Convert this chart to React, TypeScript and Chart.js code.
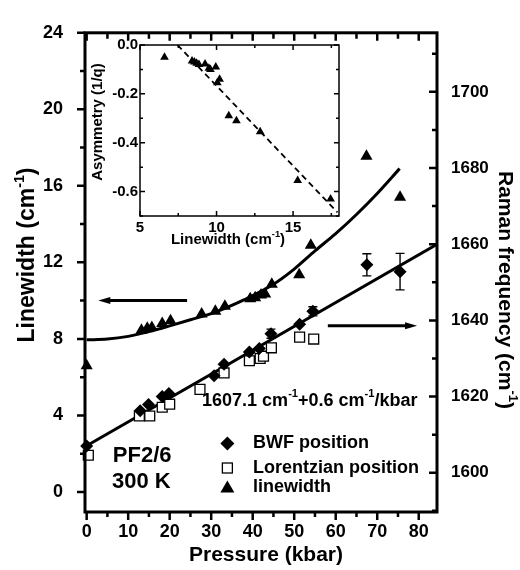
import React, { useEffect, useRef } from "react";
import { Chart, registerables } from "chart.js";
Chart.register(...registerables);

const FONT = '"Liberation Sans", Arial, Helvetica, sans-serif';

// ---- main plot data ----
const lwPressure = [0, 13.2, 14.6, 15.7, 18.2, 20.2, 27.7, 31.0, 33.3, 39.4, 40.6, 42.0, 43.0, 44.6, 51.2, 54.0, 67.4, 75.5];
const lwValue = [6.6, 8.45, 8.55, 8.6, 8.8, 8.95, 9.3, 9.45, 9.7, 10.1, 10.15, 10.3, 10.35, 10.85, 11.35, 12.9, 17.55, 15.4];

const lwCurvePressure = [0, 5, 10, 15, 20, 25, 31, 38, 44.6, 50, 55, 60, 65, 70, 75.4];
const lwCurveValue = [7.95, 7.99, 8.13, 8.38, 8.68, 9.0, 9.4, 10.05, 10.8, 11.65, 12.6, 13.5, 14.5, 15.6, 16.9];

const bwfPressure = [0, 12.9, 14.9, 18.2, 19.8, 30.7, 33.1, 39.2, 41.6, 44.4, 51.3, 54.5, 67.5, 75.5];
const bwfFreq = [1607, 1616.3, 1617.9, 1620.0, 1620.8, 1625.5, 1628.5, 1631.7, 1632.6, 1636.5, 1639.0, 1642.4, 1654.6, 1652.8];
const bwfErr = [0, 0, 0, 0, 0, 0, 0, 0, 0, 1.2, 0, 1.2, 2.9, 4.8];

const lorPressure = [0.4, 12.7, 15.2, 18.2, 20.0, 27.3, 33.1, 39.2, 41.8, 42.6, 44.5, 51.3, 54.7];
const lorFreq = [1604.6, 1614.9, 1614.9, 1617.2, 1618.0, 1621.9, 1626.2, 1629.4, 1630.0, 1630.6, 1632.8, 1635.6, 1635.1];

const fitPressure = [0, 84.4];
const fitFreq = [1607.1, 1660.0];

const pressureTicks = [0, 10, 20, 30, 40, 50, 60, 70, 80];
const pressureMinor = [5, 15, 25, 35, 45, 55, 65, 75];
const lwTicks = [0, 4, 8, 12, 16, 20, 24];
const lwMinor = [2, 6, 10, 14, 18, 22];
const freqTicks = [1600, 1620, 1640, 1660, 1680, 1700];
const freqMinor = [1590, 1610, 1630, 1650, 1670, 1690, 1710];

// ---- inset data ----
const insetLW = [6.6, 8.4, 8.55, 8.7, 8.85, 9.25, 9.5, 9.6, 9.95, 10.05, 10.2, 10.8, 11.3, 12.85, 15.3, 17.45];
const insetAsym = [-0.05, -0.065, -0.07, -0.075, -0.08, -0.078, -0.095, -0.1, -0.09, -0.155, -0.14, -0.29, -0.31, -0.355, -0.555, -0.63];
const insetFitLW = [7.45, 17.9];
const insetFitAsym = [0, -0.685];
const insetLWTicks = [5, 10, 15];
const insetLWMinor = [7.5, 12.5, 17.5];
const insetAsymTicks = [0, -0.2, -0.4, -0.6];
const insetAsymMinor = [-0.1, -0.3, -0.5, -0.7];

type Part = { t: string; sup?: boolean };

function fontStr(size: number) {
  return `bold ${size}px ${FONT}`;
}

function drawRich(ctx: CanvasRenderingContext2D, parts: Part[], x: number, y: number, size: number, align: "left" | "center") {
  let w = 0;
  for (const p of parts) {
    ctx.font = fontStr(p.sup ? size * 0.62 : size);
    w += ctx.measureText(p.t).width;
  }
  let cx = align === "center" ? x - w / 2 : x;
  ctx.textAlign = "left";
  ctx.textBaseline = "middle";
  ctx.fillStyle = "#000";
  for (const p of parts) {
    const s = p.sup ? size * 0.62 : size;
    ctx.font = fontStr(s);
    ctx.fillText(p.t, cx, p.sup ? y - size * 0.35 : y);
    cx += ctx.measureText(p.t).width;
  }
}

function drawRotated(ctx: CanvasRenderingContext2D, parts: Part[], x: number, y: number, size: number, angle: number) {
  ctx.save();
  ctx.translate(x, y);
  ctx.rotate(angle);
  drawRich(ctx, parts, 0, 0, size, "center");
  ctx.restore();
}

function arrow(ctx: CanvasRenderingContext2D, x1: number, y: number, x2: number) {
  const dir = Math.sign(x2 - x1);
  ctx.beginPath();
  ctx.lineWidth = 3;
  ctx.moveTo(x1, y);
  ctx.lineTo(x2 - dir * 8, y);
  ctx.stroke();
  ctx.beginPath();
  ctx.moveTo(x2, y);
  ctx.lineTo(x2 - dir * 12, y - 3.5);
  ctx.lineTo(x2 - dir * 12, y + 3.5);
  ctx.closePath();
  ctx.fill();
}

const mainDecor = {
  id: "mainDecor",
  afterDatasetsDraw(chart: any) {
    const ctx: CanvasRenderingContext2D = chart.ctx;
    const y2 = chart.scales.y2;
    const x = chart.scales.x;
    ctx.save();
    ctx.strokeStyle = "#000";
    ctx.lineWidth = 1.4;
    bwfErr.forEach((e, i) => {
      if (!e) return;
      const px = x.getPixelForValue(bwfPressure[i]);
      const top = y2.getPixelForValue(bwfFreq[i] + e);
      const bot = y2.getPixelForValue(bwfFreq[i] - e);
      ctx.beginPath();
      ctx.moveTo(px, top);
      ctx.lineTo(px, bot);
      ctx.moveTo(px - 4.5, top);
      ctx.lineTo(px + 4.5, top);
      ctx.moveTo(px - 4.5, bot);
      ctx.lineTo(px + 4.5, bot);
      ctx.stroke();
    });
    ctx.restore();
  },
  afterDraw(chart: any) {
    const ctx: CanvasRenderingContext2D = chart.ctx;
    const { left, right, top, bottom } = chart.chartArea;
    const x = chart.scales.x;
    const y = chart.scales.y;
    const y2 = chart.scales.y2;
    ctx.save();
    ctx.strokeStyle = "#000";
    ctx.fillStyle = "#000";
    ctx.lineWidth = 3;
    ctx.strokeRect(left, top, right - left, bottom - top);
    ctx.lineWidth = 2.5;
    ctx.beginPath();
    for (const v of pressureTicks) {
      const px = x.getPixelForValue(v);
      ctx.moveTo(px, bottom);
      ctx.lineTo(px, bottom + 8);
      ctx.moveTo(px, top);
      ctx.lineTo(px, top + 8);
    }
    for (const v of pressureMinor) {
      const px = x.getPixelForValue(v);
      ctx.moveTo(px, bottom);
      ctx.lineTo(px, bottom + 5);
      ctx.moveTo(px, top);
      ctx.lineTo(px, top + 6);
    }
    for (const v of lwTicks) {
      const py = y.getPixelForValue(v);
      ctx.moveTo(left, py);
      ctx.lineTo(left - 8, py);
    }
    for (const v of lwMinor) {
      const py = y.getPixelForValue(v);
      ctx.moveTo(left, py);
      ctx.lineTo(left - 5, py);
    }
    for (const v of freqTicks) {
      const py = y2.getPixelForValue(v);
      ctx.moveTo(right, py);
      ctx.lineTo(right - 8, py);
    }
    for (const v of freqMinor) {
      const py = y2.getPixelForValue(v);
      if (py < top || py > bottom) continue;
      ctx.moveTo(right, py);
      ctx.lineTo(right - 5, py);
    }
    ctx.stroke();

    drawRotated(ctx, [{ t: "Linewidth (cm" }, { t: "-1", sup: true }, { t: ")" }], 28, 255, 23, -Math.PI / 2);
    drawRotated(ctx, [{ t: "Raman frequency (cm" }, { t: "-1", sup: true }, { t: ")" }], 505, 290, 21, Math.PI / 2);
    drawRich(ctx, [{ t: "Pressure (kbar)" }], 266, 555, 21, "center");

    arrow(ctx, x.getPixelForValue(24.2), y.getPixelForValue(10), x.getPixelForValue(2.8));
    arrow(ctx, x.getPixelForValue(58.1), y2.getPixelForValue(1638.6), x.getPixelForValue(79.6));

    drawRich(
      ctx,
      [{ t: "1607.1 cm" }, { t: "-1", sup: true }, { t: "+0.6 cm" }, { t: "-1", sup: true }, { t: "/kbar" }],
      x.getPixelForValue(27.8),
      y.getPixelForValue(4.77),
      18,
      "left"
    );

    drawRich(ctx, [{ t: "PF2/6" }], x.getPixelForValue(6.3), y.getPixelForValue(1.86), 22, "left");
    drawRich(ctx, [{ t: "300 K" }], x.getPixelForValue(6.1), y.getPixelForValue(0.51), 22, "left");

    const sx = x.getPixelForValue(33.9);
    const tx = x.getPixelForValue(40.1);
    const r1 = y.getPixelForValue(2.53);
    const r2 = y.getPixelForValue(1.25);
    const r3 = y.getPixelForValue(0.23);
    ctx.beginPath();
    ctx.moveTo(sx, r1 - 7);
    ctx.lineTo(sx + 7, r1);
    ctx.lineTo(sx, r1 + 7);
    ctx.lineTo(sx - 7, r1);
    ctx.closePath();
    ctx.fill();
    ctx.lineWidth = 1.3;
    ctx.fillStyle = "#fff";
    ctx.fillRect(sx - 5, r2 - 5, 10, 10);
    ctx.strokeRect(sx - 5, r2 - 5, 10, 10);
    ctx.fillStyle = "#000";
    ctx.beginPath();
    ctx.moveTo(sx, r3 - 7);
    ctx.lineTo(sx + 7, r3 + 5);
    ctx.lineTo(sx - 7, r3 + 5);
    ctx.closePath();
    ctx.fill();
    drawRich(ctx, [{ t: "BWF position" }], tx, r1, 18, "left");
    drawRich(ctx, [{ t: "Lorentzian position" }], tx, r2, 18, "left");
    drawRich(ctx, [{ t: "linewidth" }], tx, r3, 18, "left");
    ctx.restore();
  },
};

const insetDecor = {
  id: "insetDecor",
  afterDraw(chart: any) {
    const ctx: CanvasRenderingContext2D = chart.ctx;
    const { left, right, top, bottom } = chart.chartArea;
    const x = chart.scales.x;
    const y = chart.scales.y;
    ctx.save();
    ctx.strokeStyle = "#000";
    ctx.lineWidth = 1.5;
    ctx.strokeRect(left, top, right - left, bottom - top);
    ctx.beginPath();
    for (const v of insetLWTicks) {
      const px = x.getPixelForValue(v);
      ctx.moveTo(px, bottom);
      ctx.lineTo(px, bottom - 5);
      ctx.moveTo(px, top);
      ctx.lineTo(px, top + 5);
    }
    for (const v of insetLWMinor) {
      const px = x.getPixelForValue(v);
      ctx.moveTo(px, bottom);
      ctx.lineTo(px, bottom - 3);
      ctx.moveTo(px, top);
      ctx.lineTo(px, top + 3);
    }
    for (const v of insetAsymTicks) {
      const py = y.getPixelForValue(v);
      ctx.moveTo(left, py);
      ctx.lineTo(left + 5, py);
      ctx.moveTo(right, py);
      ctx.lineTo(right - 5, py);
    }
    for (const v of insetAsymMinor) {
      const py = y.getPixelForValue(v);
      ctx.moveTo(left, py);
      ctx.lineTo(left + 3, py);
      ctx.moveTo(right, py);
      ctx.lineTo(right - 3, py);
    }
    ctx.stroke();
    drawRich(ctx, [{ t: "Linewidth (cm" }, { t: "-1", sup: true }, { t: ")" }], 148, 215, 15, "center");
    drawRotated(ctx, [{ t: "Asymmetry (1/q)" }], 18, 97, 15, -Math.PI / 2);
    ctx.restore();
  },
};

function pts(xs: number[], ys: number[]) {
  return xs.map((v, i) => ({ x: v, y: ys[i] }));
}

const tickFont = (size: number) => ({ family: FONT, size, weight: "bold" as const });
const noGrid = { display: false, drawTicks: false };

export default function App() {
  const mainRef = useRef<HTMLCanvasElement>(null);
  const insetRef = useRef<HTMLCanvasElement>(null);

  useEffect(() => {
    const main = new Chart(mainRef.current!, {
      type: "scatter",
      data: {
        datasets: [
          {
            label: "linewidth curve",
            data: pts(lwCurvePressure, lwCurveValue),
            yAxisID: "y",
            showLine: true,
            borderColor: "#000",
            borderWidth: 3,
            pointRadius: 0,
            cubicInterpolationMode: "monotone",
            order: 6,
          } as any,
          {
            label: "fit",
            data: pts(fitPressure, fitFreq),
            yAxisID: "y2",
            showLine: true,
            borderColor: "#000",
            borderWidth: 3,
            pointRadius: 0,
            order: 5,
          },
          {
            label: "Lorentzian position",
            data: pts(lorPressure, lorFreq),
            yAxisID: "y2",
            pointStyle: "rect",
            pointRadius: 7,
            backgroundColor: "#fff",
            borderColor: "#000",
            borderWidth: 1.3,
            clip: false,
            order: 4,
          } as any,
          {
            label: "BWF position",
            data: pts(bwfPressure, bwfFreq),
            yAxisID: "y2",
            pointStyle: "rectRot",
            pointRadius: 6.5,
            backgroundColor: "#000",
            borderColor: "#000",
            borderWidth: 0,
            clip: false,
            order: 3,
          } as any,
          {
            label: "linewidth",
            data: pts(lwPressure, lwValue),
            yAxisID: "y",
            pointStyle: "triangle",
            pointRadius: 7,
            backgroundColor: "#000",
            borderColor: "#000",
            borderWidth: 0,
            clip: false,
            order: 2,
          } as any,
        ],
      },
      options: {
        responsive: false,
        animation: false,
        events: [],
        layout: { padding: { top: 21.5, left: 0, right: 0, bottom: 0 } },
        plugins: { legend: { display: false }, tooltip: { enabled: false } },
        scales: {
          x: {
            type: "linear",
            position: "bottom",
            min: -0.4,
            max: 84.4,
            grid: noGrid,
            border: { display: false },
            afterFit: (s: any) => {
              s.height = 58;
            },
            afterBuildTicks: (s: any) => {
              s.ticks = pressureTicks.map((v) => ({ value: v }));
            },
            ticks: { font: tickFont(18), color: "#000", padding: 9, autoSkip: false, maxRotation: 0 },
          },
          y: {
            type: "linear",
            position: "left",
            min: -1.05,
            max: 24,
            grid: noGrid,
            border: { display: false },
            afterFit: (s: any) => {
              s.width = 85;
            },
            afterBuildTicks: (s: any) => {
              s.ticks = lwTicks.map((v) => ({ value: v }));
            },
            ticks: { font: tickFont(18), color: "#000", padding: 22, autoSkip: false },
          },
          y2: {
            type: "linear",
            position: "right",
            min: 1589.7,
            max: 1715.5,
            grid: noGrid,
            border: { display: false },
            afterFit: (s: any) => {
              s.width = 83;
            },
            afterBuildTicks: (s: any) => {
              s.ticks = freqTicks.map((v) => ({ value: v }));
            },
            ticks: {
              font: tickFont(17),
              color: "#000",
              padding: 14,
              autoSkip: false,
              callback: (v: any) => String(v),
            },
          },
        },
      } as any,
      plugins: [mainDecor],
    });

    const inset = new Chart(insetRef.current!, {
      type: "scatter",
      data: {
        datasets: [
          {
            label: "fit",
            data: pts(insetFitLW, insetFitAsym),
            showLine: true,
            borderColor: "#000",
            borderWidth: 1.8,
            borderDash: [6, 4],
            pointRadius: 0,
            order: 2,
          },
          {
            label: "asym",
            data: pts(insetLW, insetAsym),
            pointStyle: "triangle",
            pointRadius: 5,
            backgroundColor: "#000",
            borderColor: "#000",
            borderWidth: 0,
            clip: false,
            order: 1,
          } as any,
        ],
      },
      options: {
        responsive: false,
        animation: false,
        events: [],
        layout: { padding: { top: 20, left: 0, right: 16, bottom: 0 } },
        plugins: { legend: { display: false }, tooltip: { enabled: false } },
        scales: {
          x: {
            type: "linear",
            min: 5,
            max: 18,
            grid: noGrid,
            border: { display: false },
            afterFit: (s: any) => {
              s.height = 44;
            },
            afterBuildTicks: (s: any) => {
              s.ticks = insetLWTicks.map((v) => ({ value: v }));
            },
            ticks: { font: tickFont(15), color: "#000", padding: 3, autoSkip: false, maxRotation: 0 },
          },
          y: {
            type: "linear",
            min: -0.7,
            max: 0,
            grid: noGrid,
            border: { display: false },
            afterFit: (s: any) => {
              s.width = 60;
            },
            afterBuildTicks: (s: any) => {
              s.ticks = insetAsymTicks.map((v) => ({ value: v }));
            },
            ticks: {
              font: tickFont(15),
              color: "#000",
              padding: 2,
              autoSkip: false,
              callback: (v: any) => Number(v).toFixed(1),
            },
          },
        },
      } as any,
      plugins: [insetDecor],
    });

    return () => {
      main.destroy();
      inset.destroy();
    };
  }, []);

  return (
    <div style={{ position: "absolute", left: 0, top: 0, width: 520, height: 570, background: "#fff" }}>
      <canvas ref={mainRef} width={520} height={570} style={{ position: "absolute", left: 0, top: 0 }} />
      <canvas ref={insetRef} width={275} height={235} style={{ position: "absolute", left: 80, top: 25 }} />
    </div>
  );
}
